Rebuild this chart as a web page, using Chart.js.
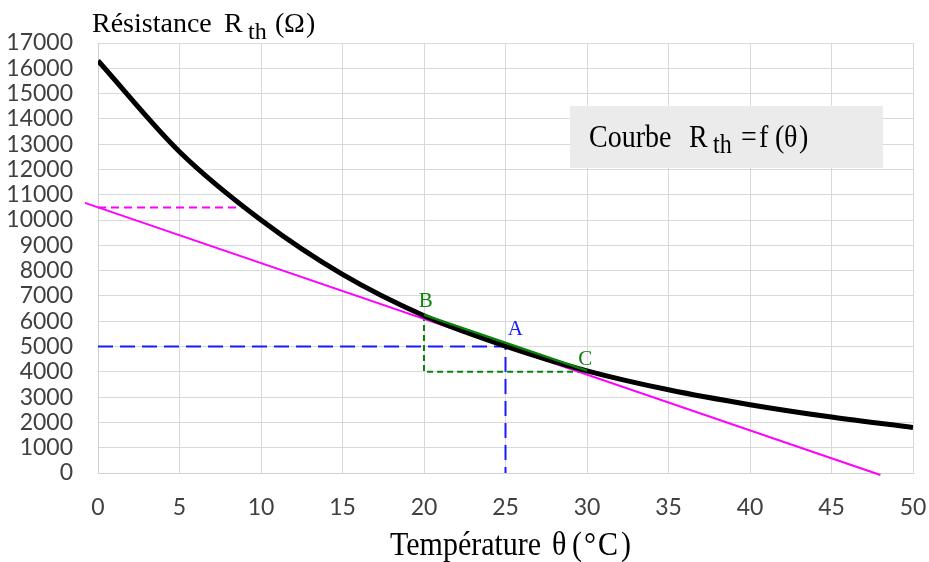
<!DOCTYPE html>
<html>
<head>
<meta charset="utf-8">
<script src="https://cdn.jsdelivr.net/npm/chart.js@4/dist/chart.umd.min.js"></script>
<style>
  html, body { margin: 0; padding: 0; background: #fff; }
  #wrap { width: 929px; height: 562px; }
</style>
</head>
<body>
<div id="wrap"><canvas id="chart" width="929" height="562"></canvas></div>
<script>
// --- data ---
const temps = [0, 5, 10, 15, 20, 25, 30, 35, 40, 45, 50];
const resistances = [16300, 12700, 10000, 7850, 6220, 5020, 4040, 3290, 2700, 2210, 1800];

// tangent at A (magenta)
const tangentX = [-0.8, 48];
const tangentY = [10680, -80];

// magenta dashed reading at theta = 0
const magentaDashX = [0, 8.9];
const magentaDashY = [10500, 10500];

// point A (blue dashed guides)
const blueDashX = [0, 25, 25];
const blueDashY = [5000, 5000, 0];

// chord B -> C (green) and its guides
const chordX = [20, 30];
const chordY = [6250, 4050];
const greenDashX = [20, 20, 30];
const greenDashY = [6250, 4000, 4000];

// point labels
const pointLabels = ['B', 'A', 'C'];
const pointLabelX = [20.1, 25.6, 29.9];
const pointLabelY = [6560, 5450, 4270];
const pointLabelColors = ['#0a820a', '#1a1aff', '#0a820a'];

const xTickStep = 5;
const yTickStep = 1000;

const toPoints = (xs, ys) => xs.map((x, i) => ({ x: x, y: ys[i] }));

const tickFont = { family: 'Lato, "Open Sans", sans-serif', size: 23 };
const serif = '"Liberation Serif", "DejaVu Serif", serif';

// draws the free text: axis titles, legend box, point names
const textPlugin = {
  id: 'texts',
  afterDatasetsDraw(chart) {
    const ctx = chart.ctx;
    const xs = chart.scales.x, ys = chart.scales.y;

    // point names
    ctx.save();
    ctx.font = '21px ' + serif;
    ctx.textAlign = 'center';
    ctx.textBaseline = 'alphabetic';
    pointLabels.forEach((lab, i) => {
      ctx.fillStyle = pointLabelColors[i];
      ctx.fillText(lab, xs.getPixelForValue(pointLabelX[i]), ys.getPixelForValue(pointLabelY[i]));
    });
    ctx.restore();
  },
  afterDraw(chart) {
    const ctx = chart.ctx;
    ctx.save();
    ctx.fillStyle = '#000';
    ctx.textBaseline = 'alphabetic';
    ctx.textAlign = 'left';

    // pieces of text placed one by one: [text, x, baseline, size, vertical stretch]
    function pieces(list) {
      list.forEach(p => {
        ctx.save();
        ctx.translate(p[1], p[2]);
        ctx.scale(1, p[4] || 1);
        ctx.font = p[3] + 'px ' + serif;
        ctx.fillText(p[0], 0, 0);
        ctx.restore();
      });
    }

    // y axis title
    pieces([
      ['Résistance', 92, 32, 28],
      ['R', 224, 32, 28],
      ['th', 248, 39, 24],
      ['(', 275, 32, 28],
      ['Ω', 284, 32, 28],
      [')', 306, 32, 28]
    ]);

    // x axis title
    pieces([
      ['Température', 390, 555, 30, 1.1],
      ['θ', 552, 555, 30, 1.1],
      ['(', 572, 555, 30, 1.1],
      ['°', 584, 555, 30, 1.1],
      ['C', 598, 555, 30, 1.1],
      [')', 621, 555, 30, 1.1]
    ]);

    // legend box
    ctx.fillStyle = '#ebebeb';
    ctx.fillRect(570, 106, 313, 62);
    ctx.fillStyle = '#000';
    pieces([
      ['Courbe', 589, 147, 28, 1.15],
      ['R', 689, 147, 28, 1.15],
      ['th', 713, 153, 24, 1.1],
      ['=', 741, 147, 28, 1.15],
      ['f', 759, 147, 28, 1.15],
      ['(', 775, 147, 28, 1.15],
      ['θ', 784, 147, 28, 1.15],
      [')', 799, 147, 28, 1.15]
    ]);
    ctx.restore();
  }
};

new Chart(document.getElementById('chart'), {
  type: 'scatter',
  data: {
    datasets: [
      {
        label: 'chord BC',
        data: toPoints(chordX, chordY),
        showLine: true, borderColor: '#0a820a', borderWidth: 2.5,
        pointRadius: 0, order: 0
      },
      {
        label: 'Rth',
        data: toPoints(temps, resistances),
        showLine: true, borderColor: '#000', borderWidth: 5,
        cubicInterpolationMode: 'monotone',
        pointRadius: 0, order: 1
      },
      {
        label: 'tangent',
        data: toPoints(tangentX, tangentY),
        showLine: true, borderColor: '#ff00ff', borderWidth: 2,
        pointRadius: 0, order: 2, clip: false
      },
      {
        label: 'magenta dash',
        data: toPoints(magentaDashX, magentaDashY),
        showLine: true, borderColor: '#ff00ff', borderWidth: 2, borderDash: [8, 5],
        pointRadius: 0, order: 3
      },
      {
        label: 'blue dash',
        data: toPoints(blueDashX, blueDashY),
        showLine: true, borderColor: '#1a1aff', borderWidth: 2, borderDash: [15, 7],
        pointRadius: 0, order: 3
      },
      {
        label: 'green dash',
        data: toPoints(greenDashX, greenDashY),
        showLine: true, borderColor: '#0a820a', borderWidth: 2, borderDash: [6, 4],
        pointRadius: 0, order: 3
      }
    ]
  },
  options: {
    responsive: false,
    animation: false,
    layout: { padding: { top: 43, right: 16, left: 0, bottom: 0 } },
    plugins: { legend: { display: false }, tooltip: { enabled: false } },
    scales: {
      x: {
        type: 'linear', min: 0, max: 50,
        afterFit: s => { s.height = 89; s.paddingLeft = 0; s.paddingRight = 0; },
        ticks: { stepSize: xTickStep, padding: 21, color: '#404040', font: tickFont, maxRotation: 0, autoSkip: false },
        grid: { color: '#d9d9d9', drawTicks: false },
        border: { color: '#d0d0d0' }
      },
      y: {
        min: 0, max: 17000,
        afterFit: s => { s.width = 98; s.paddingTop = 0; s.paddingBottom = 0; },
        ticks: {
          stepSize: yTickStep, padding: 25, color: '#404040', font: tickFont, autoSkip: false,
          callback: v => String(v)
        },
        grid: { color: '#d9d9d9', drawTicks: false },
        border: { color: '#d0d0d0' }
      }
    }
  },
  plugins: [textPlugin]
});
</script>
</body>
</html>
